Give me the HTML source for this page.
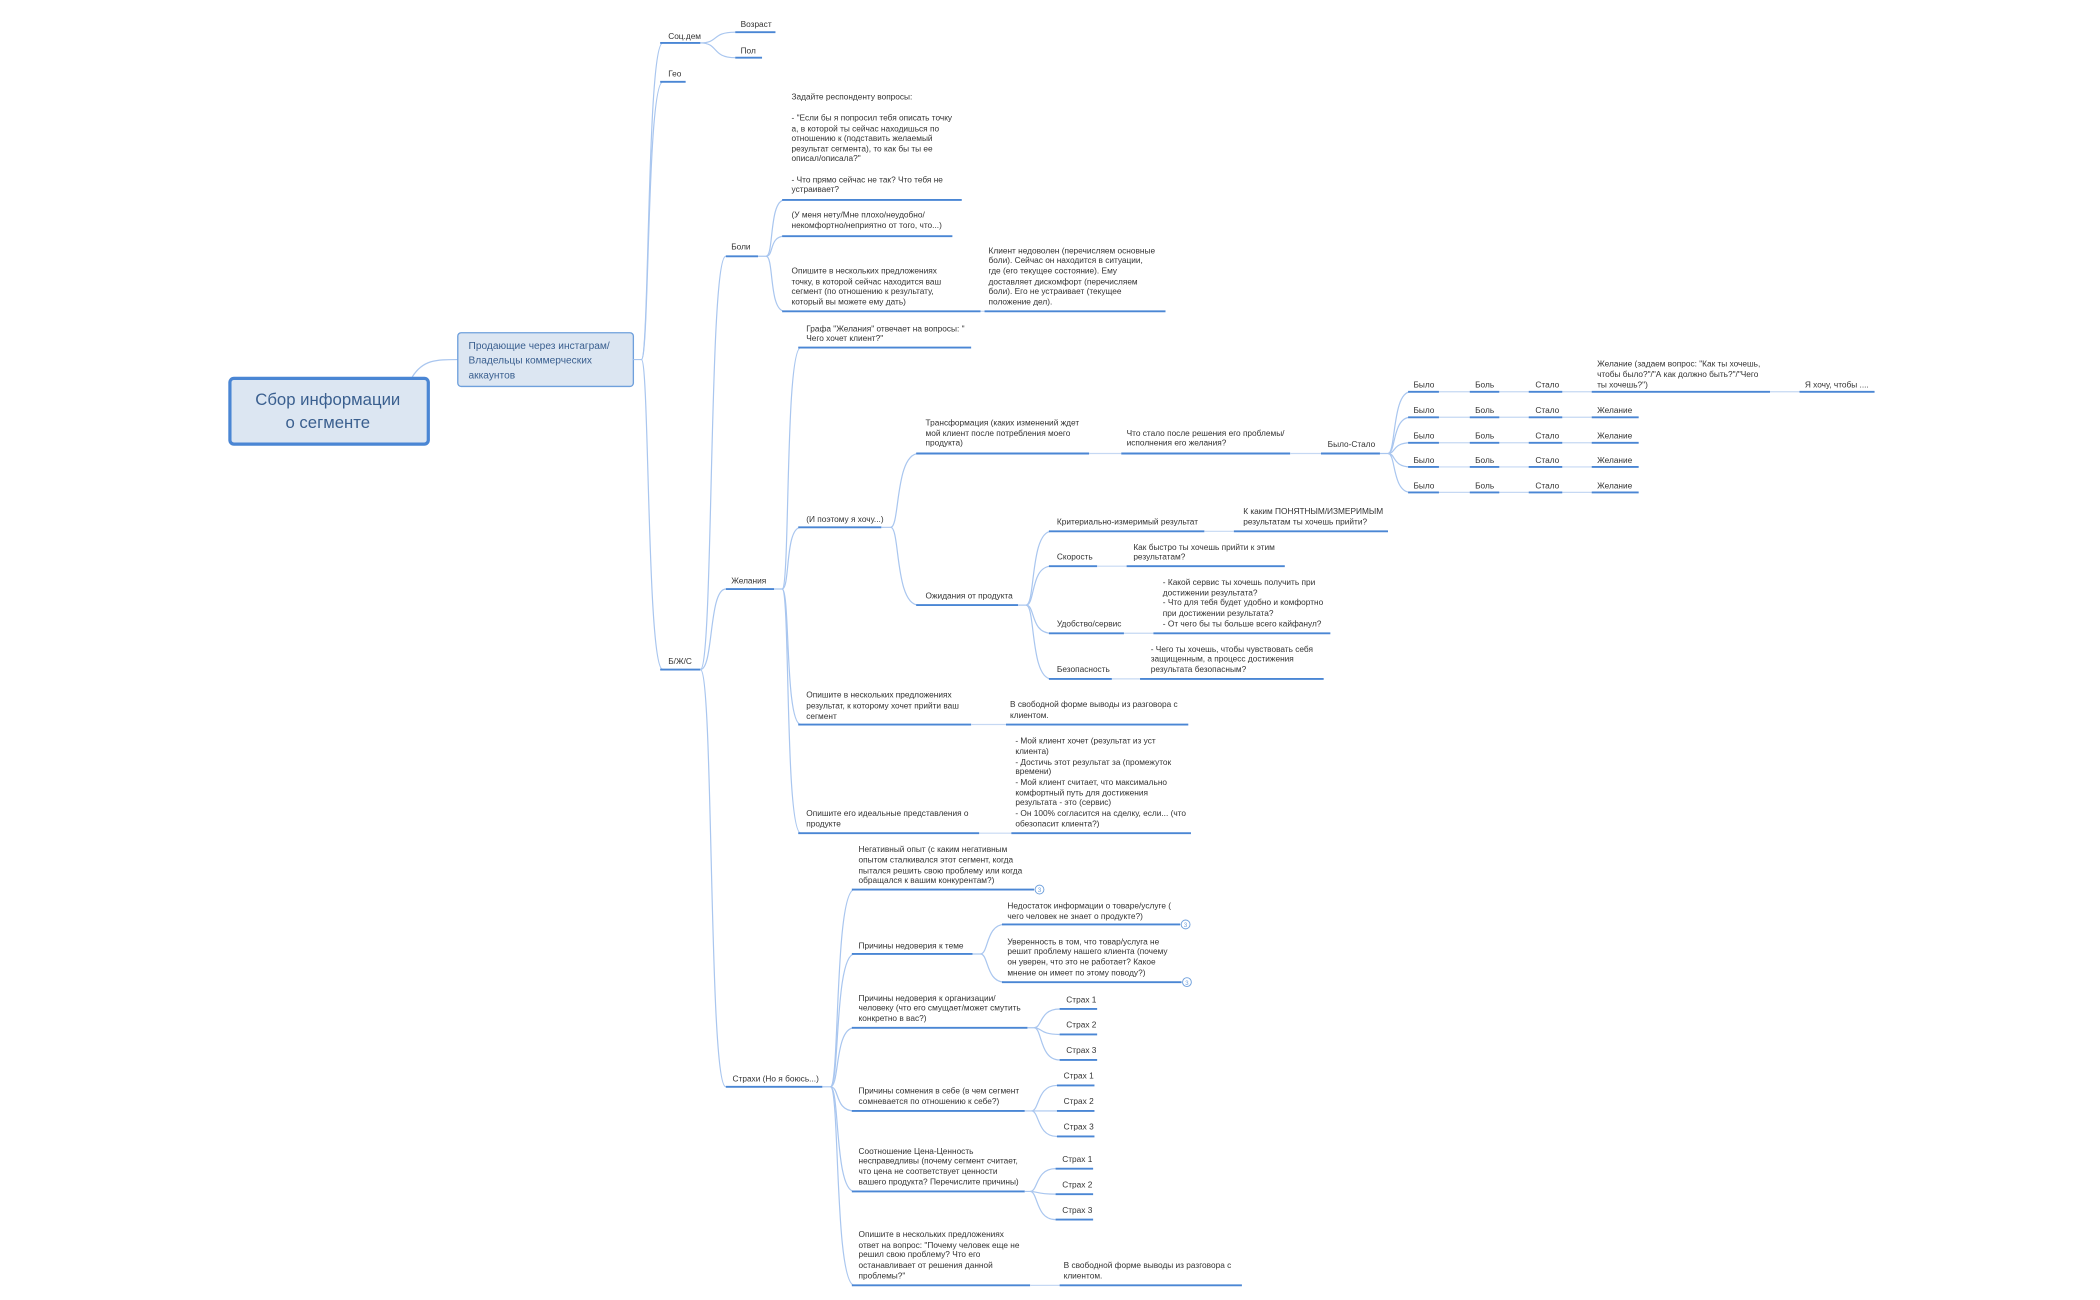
<!DOCTYPE html>
<html><head><meta charset="utf-8"><style>
html,body{margin:0;padding:0;background:#fff;}
svg{display:block;}
text{font-family:"Liberation Sans","Noto Sans CJK SC",sans-serif;font-size:6.2px;fill:#333;}
.u{stroke:#4a86d4;stroke-width:1.4;fill:none;}
.c{stroke:#a9c6ef;stroke-width:0.9;fill:none;}
.l{stroke:#c5d8f3;stroke-width:0.9;fill:none;}
.b{font-size:6px;fill:#6fa0dc;}
</style></head><body>
<svg width="2100" height="1300" viewBox="0 0 1560 966" xmlns="http://www.w3.org/2000/svg">
<g transform="translate(0.3,0) scale(0.996,0.997)">
<!-- root -->
<path class="c" d="M307,281 C315,268 325,268 341,268"/>
<rect x="171" y="282" width="148" height="49" rx="3" fill="#dce6f2" stroke="#4a86d4" stroke-width="2.4"/>
<text x="244" y="302" text-anchor="middle" style="font-size:12.5px;fill:#3a5f8f">Сбор информации</text>
<text x="244" y="319" text-anchor="middle" style="font-size:12.5px;fill:#3a5f8f">о сегменте</text>
<rect x="341" y="248" width="131" height="40" rx="2.5" fill="#dce6f2" stroke="#6fa0dc" stroke-width="1"/>
<text x="349" y="260" style="font-size:7.6px;fill:#3a5f8f">Продающие через инстаграм/</text>
<text x="349" y="271" style="font-size:7.6px;fill:#3a5f8f">Владельцы коммерческих</text>
<text x="349" y="282" style="font-size:7.6px;fill:#3a5f8f">аккаунтов</text>

<!-- trunk -->
<path class="c" d="M472,268 L478,268 C484,268 482,32 494,32"/>
<path class="c" d="M478,268 C484,268 482,61 494,61"/>
<path class="c" d="M478,268 C484,268 482,499 494,499"/>
<line class="u" x1="492" y1="32" x2="522" y2="32"/><text x="498" y="29">Соц.дем</text>
<line class="u" x1="492" y1="61" x2="511" y2="61"/><text x="498" y="57">Гео</text>
<line class="u" x1="492" y1="499" x2="522" y2="499"/><text x="498" y="495">Б/Ж/С</text>

<path class="c" d="M522,32 C536,32 530,24 548,24"/>
<path class="c" d="M522,32 C536,32 530,43 548,43"/>
<line class="u" x1="548" y1="24" x2="578" y2="24"/><text x="552" y="20">Возраст</text>
<line class="u" x1="548" y1="43" x2="568" y2="43"/><text x="552" y="40">Пол</text>

<!-- Б/Ж/С children -->
<path class="c" d="M522,499 C532,499 528,191 541,191"/>
<path class="c" d="M522,499 C532,499 528,439 541,439"/>
<path class="c" d="M522,499 C532,499 528,810 541,810"/>
<line class="u" x1="541" y1="191" x2="565" y2="191"/><text x="545" y="186">Боли</text>
<line class="u" x1="541" y1="439" x2="577" y2="439"/><text x="545" y="435">Желания</text>
<line class="u" x1="541" y1="810" x2="613" y2="810"/><text x="546" y="806">Страхи (Но я боюсь...)</text>

<!-- Боли -->
<path class="c" d="M565,191 L571,191 C577,191 573,149 585,149"/>
<path class="c" d="M571,191 C577,191 573,176 585,176"/>
<path class="c" d="M571,191 C577,191 573,232 585,232"/>
<line class="u" x1="583" y1="149" x2="717" y2="149"/>
<text x="590" y="74">Задайте респонденту вопросы:</text>
<text x="590" y="90">- "Если бы я попросил тебя описать точку</text>
<text x="590" y="98">а, в которой ты сейчас находишься по</text>
<text x="590" y="105">отношению к (подставить желаемый</text>
<text x="590" y="113">результат сегмента), то как бы ты ее</text>
<text x="590" y="120">описал/описала?"</text>
<text x="590" y="136">- Что прямо сейчас не так? Что тебя не</text>
<text x="590" y="143">устраивает?</text>
<line class="u" x1="583" y1="176" x2="710" y2="176"/>
<text x="590" y="162">(У меня нету/Мне плохо/неудобно/</text>
<text x="590" y="170">некомфортно/неприятно от того, что...)</text>
<line class="u" x1="583" y1="232" x2="731" y2="232"/>
<text x="590" y="204">Опишите в нескольких предложениях</text>
<text x="590" y="212">точку, в которой сейчас находится ваш</text>
<text x="590" y="219">сегмент (по отношению к результату,</text>
<text x="590" y="227">который вы можете ему дать)</text>
<line class="l" x1="731" y1="232" x2="734" y2="232"/>
<line class="u" x1="734" y1="232" x2="869" y2="232"/>
<text x="737" y="189">Клиент недоволен (перечисляем основные</text>
<text x="737" y="196">боли). Сейчас он находится в ситуации,</text>
<text x="737" y="204">где (его текущее состояние). Ему</text>
<text x="737" y="212">доставляет дискомфорт (перечисляем</text>
<text x="737" y="219">боли). Его не устраивает (текущее</text>
<text x="737" y="227">положение дел).</text>

<!-- Желания -->
<path class="c" d="M577,439 L583,439 C589,439 585,259 597,259"/>
<path class="c" d="M583,439 C589,439 585,393 597,393"/>
<path class="c" d="M583,439 C589,439 585,540 597,540"/>
<path class="c" d="M583,439 C589,439 585,621 597,621"/>
<line class="u" x1="595" y1="259" x2="724" y2="259"/>
<text x="601" y="247">Графа "Желания" отвечает на вопросы: "</text>
<text x="601" y="254">Чего хочет клиент?"</text>
<line class="u" x1="595" y1="393" x2="657" y2="393"/><text x="601" y="389">(И поэтому я хочу...)</text>
<line class="u" x1="595" y1="540" x2="724" y2="540"/>
<text x="601" y="520">Опишите в нескольких предложениях</text>
<text x="601" y="528">результат, к которому хочет прийти ваш</text>
<text x="601" y="536">сегмент</text>
<line class="l" x1="724" y1="540" x2="750" y2="540"/>
<line class="u" x1="750" y1="540" x2="886" y2="540"/>
<text x="753" y="527">В свободной форме выводы из разговора с</text>
<text x="753" y="535">клиентом.</text>
<line class="u" x1="595" y1="621" x2="730" y2="621"/>
<text x="601" y="608">Опишите его идеальные представления о</text>
<text x="601" y="616">продукте</text>
<line class="l" x1="730" y1="621" x2="754" y2="621"/>
<line class="u" x1="754" y1="621" x2="888" y2="621"/>
<text x="757" y="554">- Мой клиент хочет (результат из уст</text>
<text x="757" y="562">клиента)</text>
<text x="757" y="570">- Достичь этот результат за (промежуток</text>
<text x="757" y="577">времени)</text>
<text x="757" y="585">- Мой клиент считает, что максимально</text>
<text x="757" y="593">комфортный путь для достижения</text>
<text x="757" y="600">результата - это (сервис)</text>
<text x="757" y="608">- Он 100% согласится на сделку, если... (что</text>
<text x="757" y="616">обезопасит клиента?)</text>

<!-- И поэтому -->
<path class="c" d="M657,393 L664,393 C671,393 667,338 685,338"/>
<path class="c" d="M664,393 C671,393 667,451 685,451"/>
<line class="u" x1="683" y1="338" x2="812" y2="338"/>
<text x="690" y="317">Трансформация (каких изменений ждет</text>
<text x="690" y="325">мой клиент после потребления моего</text>
<text x="690" y="332">продукта)</text>
<line class="l" x1="812" y1="338" x2="836" y2="338"/>
<line class="u" x1="836" y1="338" x2="962" y2="338"/>
<text x="840" y="325">Что стало после решения его проблемы/</text>
<text x="840" y="332">исполнения его желания?</text>
<line class="l" x1="962" y1="338" x2="985" y2="338"/>
<line class="u" x1="985" y1="338" x2="1029" y2="338"/>
<text x="990" y="333">Было-Стало</text>
<line class="u" x1="683" y1="451" x2="759" y2="451"/><text x="690" y="446">Ожидания от продукта</text>

<!-- Было-Стало rows -->
<path class="c" d="M1029,338 L1035,338 C1041,338 1038,292 1052,292"/>
<path class="c" d="M1035,338 C1041,338 1038,311 1052,311"/>
<path class="c" d="M1035,338 C1041,338 1038,330 1052,330"/>
<path class="c" d="M1035,338 C1041,338 1038,348 1052,348"/>
<path class="c" d="M1035,338 C1041,338 1038,367 1052,367"/>
<g>
<line class="l" x1="1050" y1="292" x2="1320" y2="292"/>
<line class="l" x1="1050" y1="311" x2="1222" y2="311"/>
<line class="l" x1="1050" y1="330" x2="1222" y2="330"/>
<line class="l" x1="1050" y1="348" x2="1222" y2="348"/>
<line class="l" x1="1050" y1="367" x2="1222" y2="367"/>
<line class="l" x1="1320" y1="292" x2="1342" y2="292"/>
</g>
<g>
<line class="u" x1="1050" y1="292" x2="1073" y2="292"/><text x="1054" y="289">Было</text>
<line class="u" x1="1096" y1="292" x2="1118" y2="292"/><text x="1100" y="289">Боль</text>
<line class="u" x1="1140" y1="292" x2="1165" y2="292"/><text x="1145" y="289">Стало</text>
<line class="u" x1="1187" y1="292" x2="1320" y2="292"/>
<text x="1191" y="273">Желание (задаем вопрос: "Как ты хочешь,</text>
<text x="1191" y="281">чтобы было?"/"А как должно быть?"/"Чего</text>
<text x="1191" y="289">ты хочешь?")</text>
<line class="u" x1="1342" y1="292" x2="1398" y2="292"/><text x="1346" y="289">Я хочу, чтобы ....</text>

<line class="u" x1="1050" y1="311" x2="1073" y2="311"/><text x="1054" y="308">Было</text>
<line class="u" x1="1096" y1="311" x2="1118" y2="311"/><text x="1100" y="308">Боль</text>
<line class="u" x1="1140" y1="311" x2="1165" y2="311"/><text x="1145" y="308">Стало</text>
<line class="u" x1="1187" y1="311" x2="1222" y2="311"/><text x="1191" y="308">Желание</text>

<line class="u" x1="1050" y1="330" x2="1073" y2="330"/><text x="1054" y="327">Было</text>
<line class="u" x1="1096" y1="330" x2="1118" y2="330"/><text x="1100" y="327">Боль</text>
<line class="u" x1="1140" y1="330" x2="1165" y2="330"/><text x="1145" y="327">Стало</text>
<line class="u" x1="1187" y1="330" x2="1222" y2="330"/><text x="1191" y="327">Желание</text>

<line class="u" x1="1050" y1="348" x2="1073" y2="348"/><text x="1054" y="345">Было</text>
<line class="u" x1="1096" y1="348" x2="1118" y2="348"/><text x="1100" y="345">Боль</text>
<line class="u" x1="1140" y1="348" x2="1165" y2="348"/><text x="1145" y="345">Стало</text>
<line class="u" x1="1187" y1="348" x2="1222" y2="348"/><text x="1191" y="345">Желание</text>

<line class="u" x1="1050" y1="367" x2="1073" y2="367"/><text x="1054" y="364">Было</text>
<line class="u" x1="1096" y1="367" x2="1118" y2="367"/><text x="1100" y="364">Боль</text>
<line class="u" x1="1140" y1="367" x2="1165" y2="367"/><text x="1145" y="364">Стало</text>
<line class="u" x1="1187" y1="367" x2="1222" y2="367"/><text x="1191" y="364">Желание</text>
</g>

<!-- Ожидания -->
<path class="c" d="M759,451 L765,451 C772,451 768,396 784,396"/>
<path class="c" d="M765,451 C772,451 768,422 784,422"/>
<path class="c" d="M765,451 C772,451 768,472 784,472"/>
<path class="c" d="M765,451 C772,451 768,506 784,506"/>
<line class="u" x1="782" y1="396" x2="898" y2="396"/><text x="788" y="391">Критериально-измеримый результат</text>
<line class="l" x1="898" y1="396" x2="920" y2="396"/>
<line class="u" x1="920" y1="396" x2="1035" y2="396"/>
<text x="927" y="383">К каким ПОНЯТНЫМ/ИЗМЕРИМЫМ</text>
<text x="927" y="391">результатам ты хочешь прийти?</text>
<line class="u" x1="782" y1="422" x2="818" y2="422"/><text x="788" y="417">Скорость</text>
<line class="l" x1="818" y1="422" x2="840" y2="422"/>
<line class="u" x1="840" y1="422" x2="958" y2="422"/>
<text x="845" y="410">Как быстро ты хочешь прийти к этим</text>
<text x="845" y="417">результатам?</text>
<line class="u" x1="782" y1="472" x2="838" y2="472"/><text x="788" y="467">Удобство/сервис</text>
<line class="l" x1="838" y1="472" x2="860" y2="472"/>
<line class="u" x1="860" y1="472" x2="992" y2="472"/>
<text x="867" y="436">- Какой сервис ты хочешь получить при</text>
<text x="867" y="444">достижении результата?</text>
<text x="867" y="451">- Что для тебя будет удобно и комфортно</text>
<text x="867" y="459">при достижении результата?</text>
<text x="867" y="467">- От чего бы ты больше всего кайфанул?</text>
<line class="u" x1="782" y1="506" x2="829" y2="506"/><text x="788" y="501">Безопасность</text>
<line class="l" x1="829" y1="506" x2="850" y2="506"/>
<line class="u" x1="850" y1="506" x2="987" y2="506"/>
<text x="858" y="486">- Чего ты хочешь, чтобы чувствовать себя</text>
<text x="858" y="493">защищенным, а процесс достижения</text>
<text x="858" y="501">результата безопасным?</text>

<!-- Страхи -->
<path class="c" d="M613,810 L619,810 C626,810 622,663 637,663"/>
<path class="c" d="M619,810 C626,810 622,711 637,711"/>
<path class="c" d="M619,810 C626,810 622,766 637,766"/>
<path class="c" d="M619,810 C626,810 622,828 637,828"/>
<path class="c" d="M619,810 C626,810 622,888 637,888"/>
<path class="c" d="M619,810 C626,810 622,958 637,958"/>

<line class="u" x1="635" y1="663" x2="771" y2="663"/>
<text x="640" y="635">Негативный опыт (с каким негативным</text>
<text x="640" y="643">опытом сталкивался этот сегмент, когда</text>
<text x="640" y="651">пытался решить свою проблему или когда</text>
<text x="640" y="658">обращался к вашим конкурентам?)</text>
<circle cx="775" cy="663" r="3.3" fill="#fff" stroke="#6fa0dc" stroke-width="0.7"/><text class="b" x="775" y="665" text-anchor="middle" style="font-size:4.5px">3</text>

<line class="u" x1="635" y1="711" x2="725" y2="711"/><text x="640" y="707">Причины недоверия к теме</text>
<path class="c" d="M725,711 L731,711 C737,711 735,689 749,689"/>
<path class="c" d="M731,711 C737,711 735,732 749,732"/>
<line class="u" x1="747" y1="689" x2="880" y2="689"/>
<text x="751" y="677">Недостаток информации о товаре/услуге (</text>
<text x="751" y="685">чего человек не знает о продукте?)</text>
<circle cx="884" cy="689" r="3.3" fill="#fff" stroke="#6fa0dc" stroke-width="0.7"/><text class="b" x="884" y="691" text-anchor="middle" style="font-size:4.5px">3</text>
<line class="u" x1="747" y1="732" x2="881" y2="732"/>
<text x="751" y="704">Уверенность в том, что товар/услуга не</text>
<text x="751" y="711">решит проблему нашего клиента (почему</text>
<text x="751" y="719">он уверен, что это не работает? Какое</text>
<text x="751" y="727">мнение он имеет по этому поводу?)</text>
<circle cx="885" cy="732" r="3.3" fill="#fff" stroke="#6fa0dc" stroke-width="0.7"/><text class="b" x="885" y="734" text-anchor="middle" style="font-size:4.5px">3</text>

<line class="u" x1="635" y1="766" x2="766" y2="766"/>
<text x="640" y="746">Причины недоверия к организации/</text>
<text x="640" y="753">человеку (что его смущает/может смутить</text>
<text x="640" y="761">конкретно в вас?)</text>
<path class="c" d="M766,766 L771,766 C777,766 775,752 790,752"/>
<path class="c" d="M771,766 C777,766 775,771 790,771"/>
<path class="c" d="M771,766 C777,766 775,790 790,790"/>
<line class="u" x1="790" y1="752" x2="818" y2="752"/><text x="795" y="747">Страх 1</text>
<line class="u" x1="790" y1="771" x2="818" y2="771"/><text x="795" y="766">Страх 2</text>
<line class="u" x1="790" y1="790" x2="818" y2="790"/><text x="795" y="785">Страх 3</text>

<line class="u" x1="635" y1="828" x2="764" y2="828"/>
<text x="640" y="815">Причины сомнения в себе (в чем сегмент</text>
<text x="640" y="823">сомневается по отношению к себе?)</text>
<path class="c" d="M764,828 L769,828 C775,828 773,809 788,809"/>
<path class="c" d="M769,828 L788,828"/>
<path class="c" d="M769,828 C775,828 773,847 788,847"/>
<line class="u" x1="788" y1="809" x2="816" y2="809"/><text x="793" y="804">Страх 1</text>
<line class="u" x1="788" y1="828" x2="816" y2="828"/><text x="793" y="823">Страх 2</text>
<line class="u" x1="788" y1="847" x2="816" y2="847"/><text x="793" y="842">Страх 3</text>

<line class="u" x1="635" y1="888" x2="764" y2="888"/>
<text x="640" y="860">Соотношение Цена-Ценность</text>
<text x="640" y="867">несправедливы (почему сегмент считает,</text>
<text x="640" y="875">что цена не соответствует ценности</text>
<text x="640" y="883">вашего продукта? Перечислите причины)</text>
<path class="c" d="M764,888 L768,888 C774,888 772,871 787,871"/>
<path class="c" d="M768,888 C774,888 772,890 787,890"/>
<path class="c" d="M768,888 C774,888 772,909 787,909"/>
<line class="u" x1="787" y1="871" x2="815" y2="871"/><text x="792" y="866">Страх 1</text>
<line class="u" x1="787" y1="890" x2="815" y2="890"/><text x="792" y="885">Страх 2</text>
<line class="u" x1="787" y1="909" x2="815" y2="909"/><text x="792" y="904">Страх 3</text>

<line class="u" x1="635" y1="958" x2="768" y2="958"/>
<text x="640" y="922">Опишите в нескольких предложениях</text>
<text x="640" y="930">ответ на вопрос: "Почему человек еще не</text>
<text x="640" y="937">решил свою проблему? Что его</text>
<text x="640" y="945">останавливает от решения данной</text>
<text x="640" y="953">проблемы?"</text>
<line class="l" x1="768" y1="958" x2="790" y2="958"/>
<line class="u" x1="790" y1="958" x2="926" y2="958"/>
<text x="793" y="945">В свободной форме выводы из разговора с</text>
<text x="793" y="953">клиентом.</text>
</g>
</svg>
</body></html>
